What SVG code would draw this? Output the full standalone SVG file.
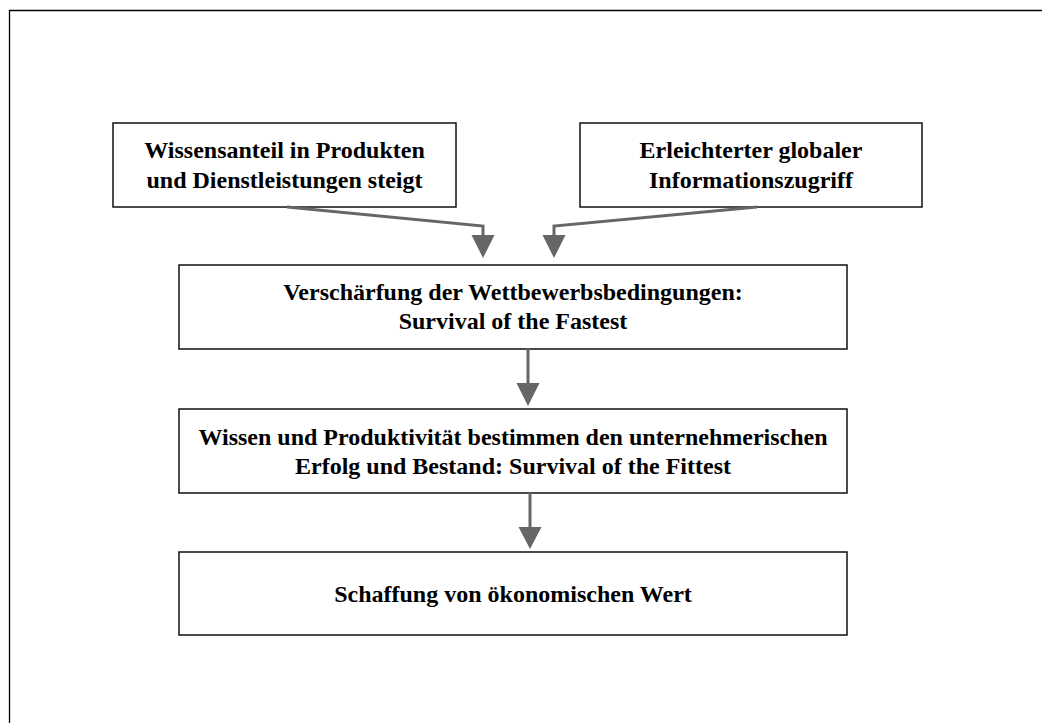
<svg xmlns="http://www.w3.org/2000/svg" width="1042" height="723" viewBox="0 0 1042 723">
  <style>
    .box { fill: #ffffff; stroke: #111111; stroke-width: 1.5; }
    .frame { fill: none; stroke: #000000; stroke-width: 1.3; }
    .lbl { font-family: "Liberation Serif", "Times New Roman", serif; font-weight: bold; font-size: 24px; fill: #000000; text-anchor: middle; }
    .conn { fill: none; stroke: #666666; stroke-width: 3; }
    .head { fill: #666666; stroke: none; }
  </style>
  <rect width="1042" height="723" fill="#ffffff"/>
  <!-- outer page frame, open at right and bottom -->
  <path class="frame" d="M9.5,723 V10.5 H1042"/>

  <g id="node-wissensanteil">
    <rect class="box" x="113" y="123" width="343" height="84"/>
    <text class="lbl" x="284.5" y="158">Wissensanteil in Produkten</text>
    <text class="lbl" x="284.5" y="188">und Dienstleistungen steigt</text>
  </g>

  <g id="node-informationszugriff">
    <rect class="box" x="580" y="123" width="342" height="84"/>
    <text class="lbl" x="751" y="158">Erleichterter globaler</text>
    <text class="lbl" x="751" y="188">Informationszugriff</text>
  </g>

  <g id="node-wettbewerb">
    <rect class="box" x="179" y="265" width="668" height="84"/>
    <text class="lbl" x="513" y="300">Verschärfung der Wettbewerbsbedingungen:</text>
    <text class="lbl" x="513" y="329">Survival of the Fastest</text>
  </g>

  <g id="node-produktivitaet">
    <rect class="box" x="179" y="409" width="668" height="84"/>
    <text class="lbl" x="513" y="445">Wissen und Produktivität bestimmen den unternehmerischen</text>
    <text class="lbl" x="513" y="474">Erfolg und Bestand: Survival of the Fittest</text>
  </g>

  <g id="node-wert">
    <rect class="box" x="179" y="552" width="668" height="83"/>
    <text class="lbl" x="513" y="602">Schaffung von ökonomischen Wert</text>
  </g>

  <g id="connectors">
    <path class="conn" d="M287,207 L483,226 V236"/>
    <polygon class="head" points="471.5,235 494.5,235 483,258"/>
    <path class="conn" d="M757,207 L554,226 V236"/>
    <polygon class="head" points="542.5,235 565.5,235 554,258"/>
    <path class="conn" d="M528,349 V384"/>
    <polygon class="head" points="516.5,383 539.5,383 528,406"/>
    <path class="conn" d="M530,493 V528"/>
    <polygon class="head" points="518.5,527 541.5,527 530,549"/>
  </g>
</svg>
